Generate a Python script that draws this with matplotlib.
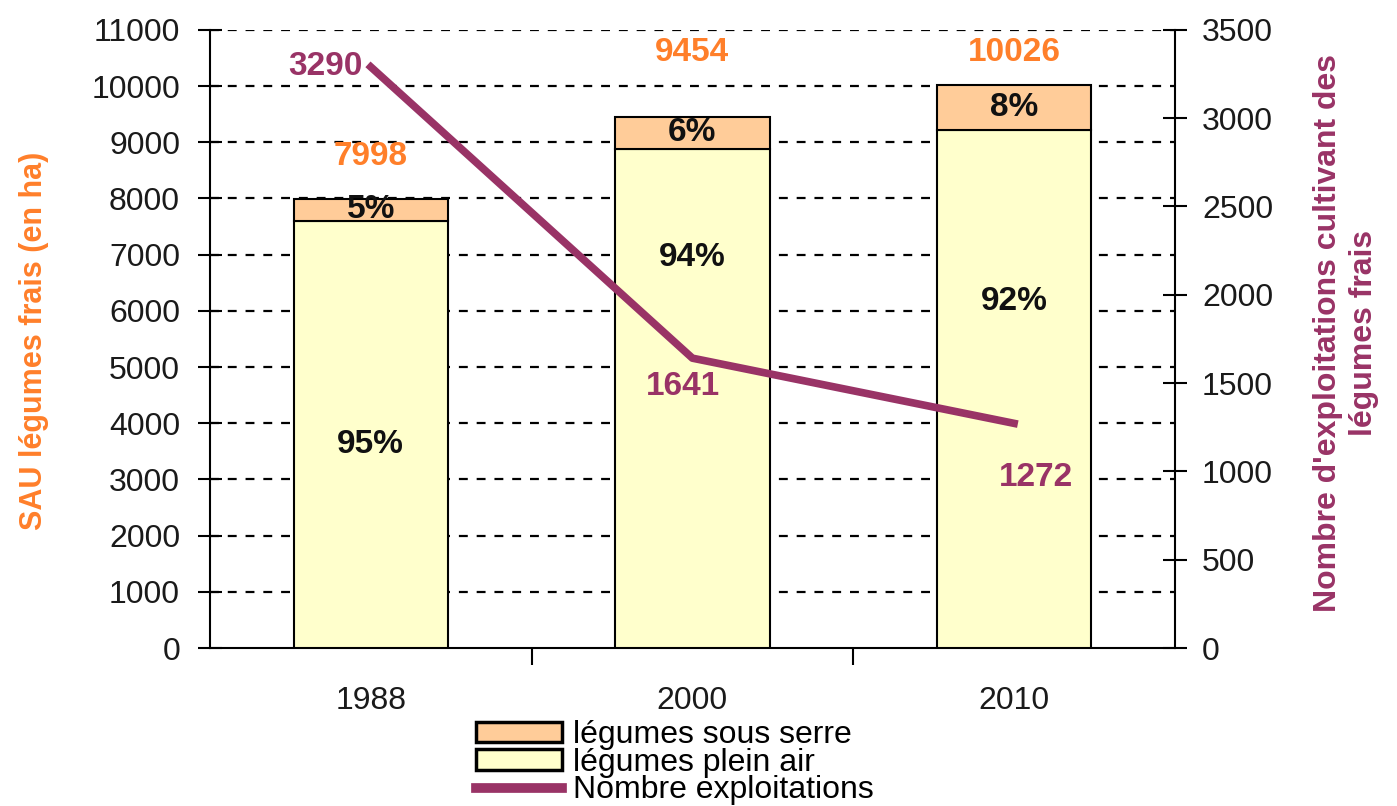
import numpy as np
import matplotlib
matplotlib.use("Agg")
import matplotlib.pyplot as plt
from matplotlib.patches import Patch
from matplotlib.lines import Line2D

plt.rcParams['font.family'] = ['Liberation Sans', 'DejaVu Sans']

annees = ["1988", "2000", "2010"]
plein_air = [7598, 8887, 9224]
sous_serre = [400, 567, 802]
totaux = [7998, 9454, 10026]
pct_serre = ["5%", "6%", "8%"]
pct_plein = ["95%", "94%", "92%"]
pct_plein_y = [3613, 6940, 6160]
exploitations = [3290, 1641, 1272]

orange = "#FF7F2A"
violet = "#993366"

fig = plt.figure(figsize=(13.97, 8.06), dpi=100)
ax = fig.add_axes([0.1503, 0.196, 0.6907, 0.767])
x = np.arange(len(annees))
w = 0.48

ax.bar(x, plein_air, w, color="#FFFFCC", edgecolor="black", linewidth=1.5, zorder=3)
ax.bar(x, sous_serre, w, bottom=plein_air, color="#FFCC99", edgecolor="black", linewidth=1.5, zorder=3)

ax.set_xlim(-0.5, 2.5)
ax.set_ylim(0, 11000)
ax.set_yticks(range(0, 11001, 1000))
ax.tick_params(axis="y", direction="inout", length=17, width=1.5, labelsize=23, pad=13,
               labelcolor="#1a1a1a")
ax.set_xticks(x)
ax.set_xticklabels(annees)
ax.tick_params(axis="x", length=0, labelsize=23, pad=27, labelcolor="#1a1a1a")
ax.set_xticks([0.5, 1.5], minor=True)
ax.tick_params(axis="x", which="minor", direction="out", length=12, width=1.5)
for yv in range(1000, 11001, 1000):
    ax.axhline(yv, color="black", linestyle=(0, (4, 4)), linewidth=1.6, zorder=1)
for s in ["top", "right"]:
    ax.spines[s].set_visible(False)
ax.spines["left"].set_linewidth(1.5)
ax.spines["bottom"].set_linewidth(1.5)
ax.set_ylabel("SAU légumes frais (en ha)", color=orange, fontsize=22, fontweight="bold")
ax.yaxis.set_label_coords(-0.167, 0.497)

# etiquettes des barres
off = [19, 35, 12]
for i in range(3):
    ax.annotate(str(totaux[i]), (x[i], totaux[i]), xytext=(0, off[i]), textcoords="offset points",
                ha="center", va="bottom", color=orange, fontsize=24, fontweight="bold", zorder=6)
    ax.text(x[i], plein_air[i] + sous_serre[i] / 2, pct_serre[i], ha="center", va="center",
            fontsize=24, fontweight="bold", color="#111111", zorder=6)
    ax.text(x[i], pct_plein_y[i], pct_plein[i], ha="center", va="center",
            fontsize=24, fontweight="bold", color="#111111", zorder=6)

ax2 = ax.twinx()
ax2.set_ylim(0, 3500)
ax2.set_yticks(range(0, 3501, 500))
ax2.tick_params(axis="y", direction="inout", length=17, width=1.5, labelsize=23, pad=11,
                labelcolor="#1a1a1a")
for s in ["top", "left", "bottom"]:
    ax2.spines[s].set_visible(False)
ax2.spines["right"].set_linewidth(1.5)
ax2.plot(x, exploitations, color=violet, linewidth=5.5, zorder=5)
ax2.set_ylabel("Nombre d'exploitations cultivant des\nlégumes frais", color=violet,
               fontsize=23, fontweight="bold", linespacing=1.25)
ax2.yaxis.set_label_coords(1.143, 0.51)

lab_off = [(-6, 0), (-7, -9), (16, -39)]
lab_ha = ["right", "center", "center"]
lab_va = ["center", "top", "center"]
for i in range(3):
    ax2.annotate(str(exploitations[i]), (x[i], exploitations[i]), xytext=lab_off[i],
                 textcoords="offset points", ha=lab_ha[i], va=lab_va[i],
                 color=violet, fontsize=24, fontweight="bold", zorder=7)

handles = [Patch(facecolor="#FFCC99", edgecolor="black", linewidth=2.5),
           Patch(facecolor="#FFFFCC", edgecolor="black", linewidth=2.5),
           Line2D([0], [0], color=violet, linewidth=7)]
labels = ["légumes sous serre", "légumes plein air", "Nombre exploitations"]
fig.legend(handles, labels, loc="upper center", bbox_to_anchor=(0.483, 0.126), frameon=False,
           fontsize=23, handlelength=2.7, handleheight=0.6, labelspacing=-0.08,
           handletextpad=0.35, borderpad=0)

fig.savefig("out.png", dpi=100)
